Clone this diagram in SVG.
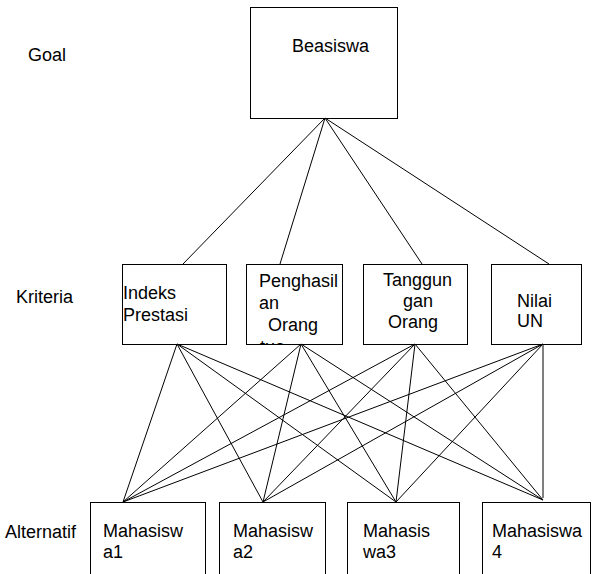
<svg xmlns="http://www.w3.org/2000/svg" width="595" height="574" viewBox="0 0 595 574">
<style>
.box{fill:#fff;stroke:#000;stroke-width:1}
text{font-family:"Liberation Sans",Arial,sans-serif;font-size:18px;fill:#000}
.con line{stroke:#000;stroke-width:1}
</style>
<defs>
<clipPath id="c2"><rect x="246" y="264" width="96" height="80"/></clipPath>
</defs>
<rect width="595" height="574" fill="#fff"/>
<g id="labels">
<text x="28" y="61">Goal</text>
<text x="16" y="303">Kriteria</text>
<text x="5" y="538">Alternatif</text>
</g>
<g id="goal"><rect class="box" x="250.5" y="7.5" width="147" height="111"/><text x="292" y="52">Beasiswa</text></g>
<g id="k1"><rect class="box" x="122.5" y="264.5" width="104" height="80"/><text x="123" y="299">Indeks</text><text x="123" y="321">Prestasi</text></g>
<g id="k2"><rect class="box" x="246.5" y="264.5" width="96" height="80"/><g clip-path="url(#c2)"><text x="259" y="287">Penghasil</text><text x="259" y="309">an</text><text x="268" y="331">Orang</text><text x="260" y="353">tua</text></g></g>
<g id="k3"><rect class="box" x="363.5" y="264.5" width="104" height="80"/><text x="383" y="286">Tanggun</text><text x="403" y="307">gan</text><text x="388" y="328">Orang</text></g>
<g id="k4"><rect class="box" x="491.5" y="264.5" width="90" height="80"/><text x="517" y="307">Nilai</text><text x="517" y="327">UN</text></g>
<g id="a1"><rect class="box" x="90.5" y="502.5" width="115" height="80"/><text x="103" y="537">Mahasisw</text><text x="103" y="558">a1</text></g>
<g id="a2"><rect class="box" x="219.5" y="502.5" width="106" height="80"/><text x="233" y="537">Mahasisw</text><text x="233" y="558">a2</text></g>
<g id="a3"><rect class="box" x="347.5" y="502.5" width="112" height="80"/><text x="363" y="537">Mahasis</text><text x="363" y="558">wa3</text></g>
<g id="a4"><rect class="box" x="482.5" y="502.5" width="108" height="80"/><text x="492" y="537">Mahasiswa</text><text x="492" y="558">4</text></g>
<g class="con" id="connectors">
<line x1="325" y1="118" x2="183" y2="264"/>
<line x1="325" y1="118" x2="280" y2="264"/>
<line x1="325" y1="118" x2="422" y2="264"/>
<line x1="325" y1="118" x2="549" y2="264"/>
<line x1="177" y1="344" x2="123" y2="502"/>
<line x1="177" y1="344" x2="263" y2="502"/>
<line x1="177" y1="344" x2="396" y2="502"/>
<line x1="177" y1="344" x2="543" y2="500"/>
<line x1="301" y1="344" x2="123" y2="502"/>
<line x1="301" y1="344" x2="263" y2="502"/>
<line x1="301" y1="344" x2="396" y2="502"/>
<line x1="301" y1="344" x2="543" y2="500"/>
<line x1="415" y1="344" x2="123" y2="502"/>
<line x1="415" y1="344" x2="263" y2="502"/>
<line x1="415" y1="344" x2="396" y2="502"/>
<line x1="415" y1="344" x2="543" y2="500"/>
<line x1="543" y1="344" x2="123" y2="502"/>
<line x1="543" y1="344" x2="263" y2="502"/>
<line x1="543" y1="344" x2="396" y2="502"/>
<line x1="543" y1="344" x2="543" y2="498"/>
</g>
</svg>
